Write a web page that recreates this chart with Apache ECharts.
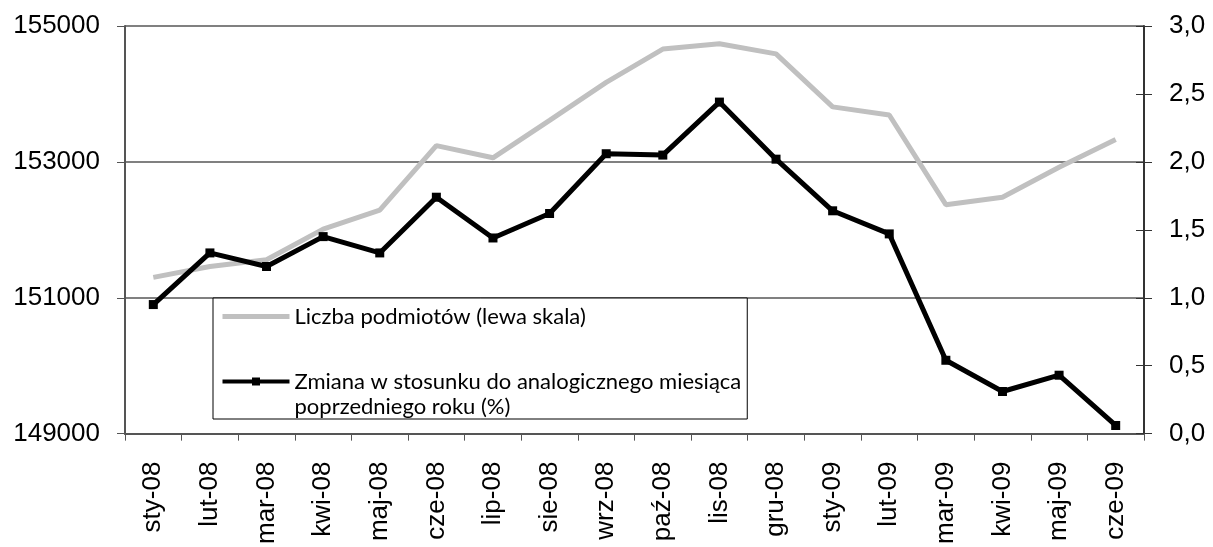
<!DOCTYPE html>
<html lang="pl">
<head>
    <meta charset="utf-8">
    <title>Liczba podmiotów</title>
    <style>
        html, body { margin: 0; padding: 0; background: #fff; }
        #chart { width: 1213px; height: 547px; }
    </style>
</head>
<body>
    <div id="chart"></div>

<script src="https://cdn.jsdelivr.net/npm/echarts@6/dist/echarts.min.js"></script>
<script>
    // miesiące
    var months = ['sty-08', 'lut-08', 'mar-08', 'kwi-08', 'maj-08', 'cze-08', 'lip-08', 'sie-08', 'wrz-08',
        'paź-08', 'lis-08', 'gru-08', 'sty-09', 'lut-09', 'mar-09', 'kwi-09', 'maj-09', 'cze-09'];

    // liczba podmiotów (lewa skala)
    var podmioty = [151300, 151460, 151560, 152010, 152290, 153240, 153060, 153610, 154170,
        154660, 154740, 154590, 153810, 153690, 152370, 152480, 152920, 153330];

    // zmiana r/r w %
    var zmiana = [0.95, 1.33, 1.23, 1.45, 1.33, 1.74, 1.44, 1.62, 2.06,
        2.05, 2.44, 2.02, 1.64, 1.47, 0.54, 0.31, 0.43, 0.06];

    var nameA = 'Liczba podmiotów (lewa skala)';
    var nameB = 'Zmiana w stosunku do analogicznego miesiąca\npoprzedniego roku (%)';

    var myChart = echarts.init(document.getElementById('chart'));

    var labelFont = {
        color: '#000',
        fontFamily: 'Liberation Sans, Arial, sans-serif',
        fontSize: 26
    };

    var option = {
        animation: false,
        grid: { left: 125, right: 69, top: 26, bottom: 110 },
        legend: {
            orient: 'vertical',
            left: 213,
            top: 298,
            padding: [6, 6, 0, 7],
            itemGap: 15,
            itemWidth: 67,
            itemHeight: 10,
            borderColor: '#000',
            borderWidth: 1,
            backgroundColor: '#fff',
            textStyle: {
                color: '#000',
                fontFamily: 'Lato, Open Sans, sans-serif',
                fontSize: 22,
                lineHeight: 25
            },
            // pusta linia na początku, żeby znacznik stał przy pierwszym wierszu
            formatter: function (name) {
                return name === nameB ? '\n' + name : name;
            },
            data: [
                {
                    name: nameA,
                    itemStyle: { color: 'rgba(0,0,0,0)', borderWidth: 0 },
                    lineStyle: { width: 5 }
                },
                { name: nameB, lineStyle: { width: 4 } }
            ]
        },
        xAxis: {
            type: 'category',
            data: months,
            boundaryGap: true,
            axisLine: { lineStyle: { color: '#555', width: 2 } },
            axisTick: { show: true, length: 7, lineStyle: { color: '#555' } },
            axisLabel: Object.assign({ rotate: 90, margin: 28, interval: 0 }, labelFont)
        },
        yAxis: [
            {
                type: 'value',
                min: 149000,
                max: 155000,
                interval: 2000,
                axisLine: { show: true, lineStyle: { color: '#555', width: 2 } },
                axisTick: { show: true, length: 8, lineStyle: { color: '#555' } },
                axisLabel: Object.assign({ margin: 25, formatter: function (v) { return String(v); } }, labelFont),
                splitLine: { show: true, lineStyle: { color: '#808080', width: 2 } }
            },
            {
                type: 'value',
                min: 0,
                max: 3,
                interval: 0.5,
                position: 'right',
                axisLine: { show: true, lineStyle: { color: '#333', width: 2 } },
                axisTick: { show: true, length: 8, lineStyle: { color: '#333' } },
                axisLabel: Object.assign({
                    margin: 25,
                    formatter: function (v) { return v.toFixed(1).replace('.', ','); }
                }, labelFont),
                splitLine: { show: false }
            },
            {
                // tylko wewnętrzne kreski prawej osi (kreski przecinają oś)
                type: 'value',
                min: 0,
                max: 3,
                interval: 0.5,
                position: 'right',
                axisLine: { show: false },
                axisTick: { show: true, inside: true, length: 8, lineStyle: { color: '#333' } },
                axisLabel: { show: false },
                splitLine: { show: false }
            }
        ],
        series: [
            {
                name: nameA,
                type: 'line',
                yAxisIndex: 0,
                data: podmioty,
                symbol: 'none',
                lineStyle: { color: '#c0c0c0', width: 5 },
                itemStyle: { color: '#c0c0c0' }
            },
            {
                name: nameB,
                type: 'line',
                yAxisIndex: 1,
                data: zmiana,
                symbol: 'rect',
                symbolSize: 9,
                lineStyle: { color: '#000', width: 5 },
                itemStyle: { color: '#000' },
                z: 3
            }
        ]
    };

    myChart.setOption(option);
</script>
</body>
</html>
